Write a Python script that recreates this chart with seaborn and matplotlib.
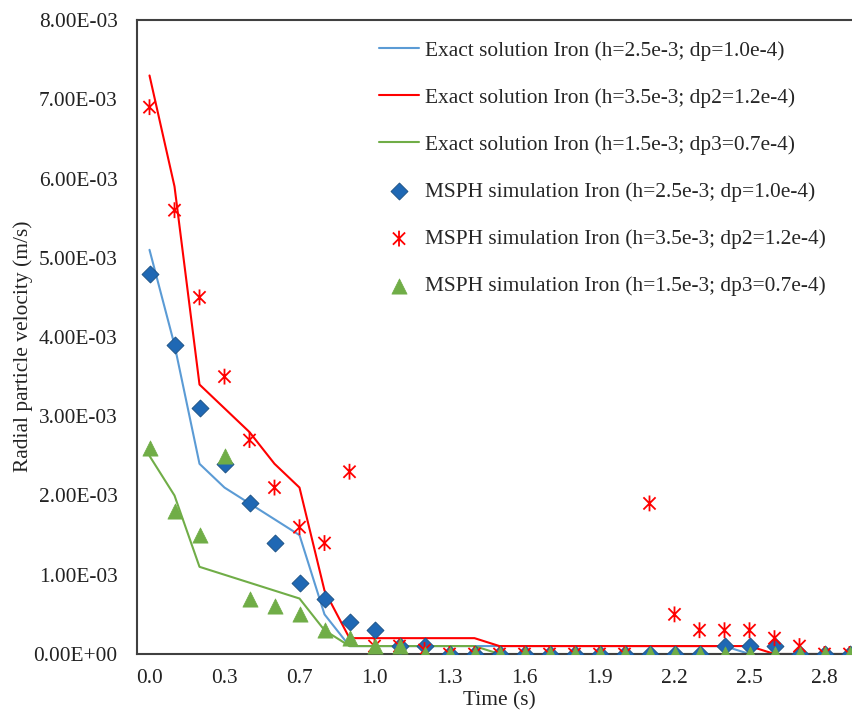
import numpy as np
import pandas as pd
import matplotlib
matplotlib.use('Agg')
import matplotlib.pyplot as plt
import seaborn as sns
from matplotlib.path import Path
from matplotlib.ticker import FuncFormatter

# time categories (Excel category axis, equally spaced)
time_s = [0.0, 0.1, 0.2, 0.3, 0.42, 0.56, 0.7, 0.8, 0.9, 1.0,
          1.1, 1.2, 1.3, 1.4, 1.5, 1.6, 1.7, 1.8, 1.9, 2.0,
          2.1, 2.2, 2.3, 2.4, 2.5, 2.6, 2.7, 2.8, 2.9]

# exact solutions (units of 1e-3 m/s)
exact_dp1 = [5.1, 3.9, 2.4, 2.1, 1.9, 1.7, 1.5, 0.5, 0.1, 0.1,
             0.1, 0.1, 0.1, 0.1, 0.1, 0.1, 0.1, 0.1, 0.1, 0.1,
             0.1, 0.1, 0.1, 0.1, 0.0, 0.0, 0.0, 0.0, 0.0]
exact_dp2 = [7.3, 5.9, 3.4, 3.1, 2.8, 2.4, 2.1, 0.8, 0.2, 0.2,
             0.2, 0.2, 0.2, 0.2, 0.1, 0.1, 0.1, 0.1, 0.1, 0.1,
             0.1, 0.1, 0.1, 0.1, 0.1, 0.0, 0.0, 0.0, 0.0]
exact_dp3 = [2.5, 2.0, 1.1, 1.0, 0.9, 0.8, 0.7, 0.3, 0.1, 0.1,
             0.1, 0.1, 0.1, 0.1, 0.0, 0.0, 0.0, 0.0, 0.0, 0.0,
             0.0, 0.0, 0.0, 0.0, 0.0, 0.0, 0.0, 0.0, 0.0]

# MSPH simulations (units of 1e-3 m/s)
msph_dp1 = [4.8, 3.9, 3.1, 2.4, 1.9, 1.4, 0.9, 0.7, 0.4, 0.3,
            0.1, 0.1, 0.0, 0.0, 0.0, 0.0, 0.0, 0.0, 0.0, 0.0,
            0.0, 0.0, 0.0, 0.1, 0.1, 0.1, 0.0, 0.0, 0.0]
msph_dp2 = [6.9, 5.6, 4.5, 3.5, 2.7, 2.1, 1.6, 1.4, 2.3, 0.1,
            0.1, 0.05, 0.0, 0.0, 0.0, 0.0, 0.0, 0.0, 0.0, 0.0,
            1.9, 0.5, 0.3, 0.3, 0.3, 0.2, 0.1, 0.0, 0.0]
msph_dp3 = [2.6, 1.8, 1.5, 2.5, 0.7, 0.6, 0.5, 0.3, 0.2, 0.1,
            0.1, 0.0, 0.0, 0.0, 0.0, 0.0, 0.0, 0.0, 0.0, 0.0,
            0.0, 0.0, 0.0, 0.0, 0.0, 0.0, 0.0, 0.0, 0.0]

labels_exact = ['Exact solution Iron (h=2.5e-3; dp=1.0e-4)',
                'Exact solution Iron (h=3.5e-3; dp2=1.2e-4)',
                'Exact solution Iron (h=1.5e-3; dp3=0.7e-4)']
labels_msph = ['MSPH simulation Iron (h=2.5e-3; dp=1.0e-4)',
               'MSPH simulation Iron (h=3.5e-3; dp2=1.2e-4)',
               'MSPH simulation Iron (h=1.5e-3; dp3=0.7e-4)']

sns.set_style('white')
plt.rcParams['font.family'] = ['Liberation Serif', 'DejaVu Serif']
fs = 15.4
plt.rcParams['font.size'] = fs

x = np.arange(len(time_s))
scale = 1e-3

fig = plt.figure(figsize=(8.52, 7.12), dpi=100)
ax = fig.add_axes([137 / 852, 58 / 712, 725 / 852, 634 / 712])

# exact solutions as lines
line_colors = ['#5B9BD5', '#FF0000', '#70AD47']
for vals, col, lab in zip([exact_dp1, exact_dp2, exact_dp3], line_colors, labels_exact):
    sns.lineplot(x=x, y=np.array(vals) * scale, color=col, linewidth=1.5, label=lab, ax=ax)

# Excel-style star marker: X with a vertical stroke
star = Path([(-1, -1), (1, 1), (-1, 1), (1, -1), (0, -1.3), (0, 1.3)],
            [Path.MOVETO, Path.LINETO, Path.MOVETO, Path.LINETO, Path.MOVETO, Path.LINETO])

sns.scatterplot(x=x, y=np.array(msph_dp1) * scale, marker='D', s=75, color='#1F68B4',
                edgecolor='#1B4F80', linewidth=0.6, label=labels_msph[0], ax=ax, zorder=3)
sns.scatterplot(x=x, y=np.array(msph_dp2) * scale, marker=star, s=130, facecolor='none',
                edgecolor='#FF0000', linewidth=1.3, label=labels_msph[1], ax=ax, zorder=3)
sns.scatterplot(x=x, y=np.array(msph_dp3) * scale, marker='^', s=120, color='#70AD47',
                edgecolor='#70AD47', linewidth=0.5, label=labels_msph[2], ax=ax, zorder=3)

ax.set_xlim(-0.5, len(time_s) - 0.5)
ax.set_ylim(0, 8e-3)
ax.set_xticks(x[::3])
ax.set_xticklabels([f'{t:.1f}' for t in time_s[::3]])
ax.set_yticks(np.arange(0, 8.01e-3, 1e-3))
ax.yaxis.set_major_formatter(FuncFormatter(lambda v, p: f'{v:.2E}'))
ax.tick_params(axis='both', length=0, labelsize=fs, colors='#222222')
ax.tick_params(axis='y', pad=14)
ax.tick_params(axis='x', pad=11)

for side in ['left', 'bottom', 'top']:
    ax.spines[side].set_color('#404040')
    ax.spines[side].set_linewidth(1.5)
ax.spines['right'].set_visible(False)

ax.set_xlabel('Time (s)', fontsize=fs, color='#222222', labelpad=2)
ax.set_ylabel('Radial particle velocity (m/s)', fontsize=fs, color='#222222')
ax.yaxis.set_label_coords(-0.143, 0.486)

ax.legend(loc='upper left', bbox_to_anchor=(368 / 852, 1 - 30 / 712),
          bbox_transform=fig.transFigure, frameon=False, fontsize=fs,
          borderpad=0, labelspacing=1.27, handlelength=1.9, handletextpad=0.25)

fig.savefig('out.png', dpi=100)
